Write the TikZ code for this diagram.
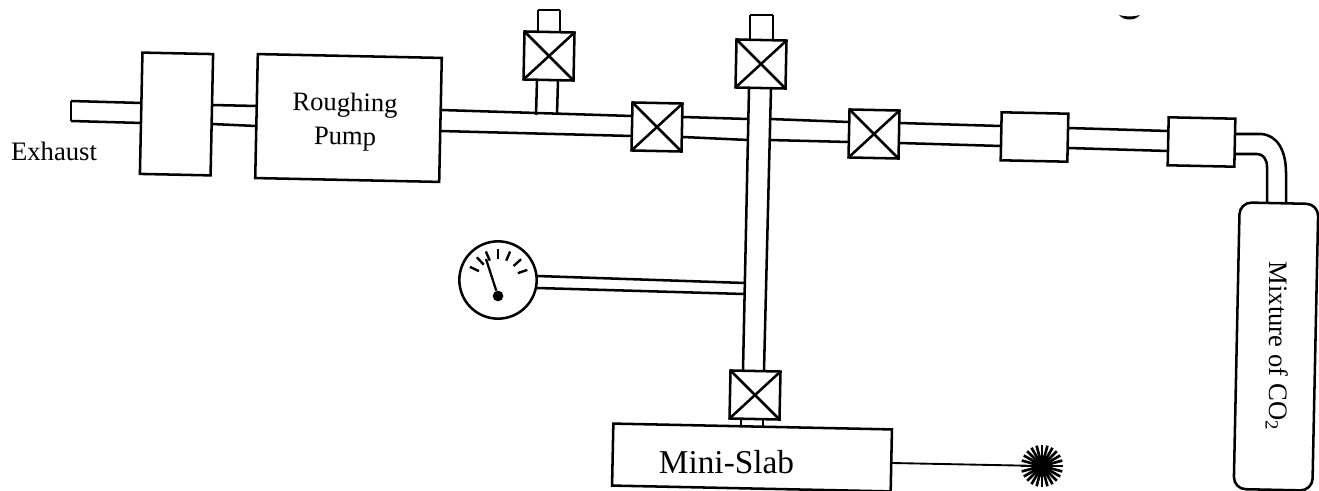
\documentclass[tikz,border=0pt]{standalone}
\usepackage{fontspec}
\setmainfont{Liberation Serif}
\begin{document}
\begin{tikzpicture}[x=0.75pt,y=-0.75pt,
  wall/.style={line width=1.9pt,black},
  unit/.style={draw,line width=1.9pt,fill=white,rotate=-1.2,inner sep=0pt,outer sep=0pt},
  valvebox/.style={unit,minimum width=37.5pt,minimum height=36pt},
  label/.style={inner sep=0pt,font=\fontsize{20}{24}\selectfont}]
\useasboundingbox (0,0) rectangle (1319,491);
% pipe wall end points
\coordinate (sa) at (71,101); \coordinate (sb) at (142,103);
\coordinate (sc) at (71,121); \coordinate (sd) at (142,123);
\coordinate (ba) at (212,105); \coordinate (bb) at (257,106);
\coordinate (bc) at (212,124); \coordinate (bd) at (256,126);
\coordinate (ma) at (441,110); \coordinate (mb) at (632,116);
\coordinate (mc) at (440,131); \coordinate (md) at (632,136);
\coordinate (na) at (537,80); \coordinate (nb) at (536,115);
\coordinate (nc) at (558,80); \coordinate (nd) at (557,115);
\coordinate (ta) at (538,32); \coordinate (tb) at (538,10); \coordinate (tc) at (560,10); \coordinate (td) at (560,32);
\coordinate (ua) at (750,39); \coordinate (ub) at (750,15); \coordinate (uc) at (773,15); \coordinate (ud) at (773,39);
\coordinate (va) at (749,88); \coordinate (vb) at (743,370);
\coordinate (vc) at (771,88); \coordinate (vd) at (764,370);
\coordinate (ha) at (683,117); \coordinate (hb) at (748,119);
\coordinate (hc) at (683,137); \coordinate (hd) at (748,140);
\coordinate (ia) at (770,119); \coordinate (ib) at (849,122);
\coordinate (ic) at (769,140); \coordinate (id) at (849,142);
\coordinate (ja) at (899,123); \coordinate (jb) at (1001,126);
\coordinate (jc) at (899,143); \coordinate (jd) at (1001,146);
\coordinate (ka) at (1068,128); \coordinate (kb) at (1168,131);
\coordinate (kc) at (1068,148); \coordinate (kd) at (1168,151);
\coordinate (ga) at (537,276); \coordinate (gb) at (745,283);
\coordinate (gc) at (537,288); \coordinate (gd) at (744,294);
\coordinate (la) at (741,420); \coordinate (lb) at (741,428);
\coordinate (lc) at (763,420); \coordinate (ld) at (763,429);
\coordinate (oa) at (1235,134); \coordinate (oc) at (1286,203);
\coordinate (qa) at (1235,154); \coordinate (qc) at (1267,203);
\coordinate (wa) at (892,463); \coordinate (wb) at (1042,466);
% pipes
\foreach \p/\q in {sa/sb,sc/sd,ba/bb,bc/bd,ma/mb,mc/md,na/nb,nc/nd,ua/ub,ub/uc,uc/ud,ta/tb,tb/tc,tc/td,va/vb,vc/vd,ha/hb,hc/hd,ia/ib,ic/id,ja/jb,jc/jd,ka/kb,kc/kd,ga/gb,gc/gd,la/lb,lc/ld}
  \draw[wall] (\p) -- (\q);
\draw[wall] (sa) -- (sc);
\draw[wall] (oa) -- (1261,134) .. controls (1277,135) and (1286,150) .. (1286,173) -- (oc);
\draw[wall] (qa) -- (1257,154) .. controls (1263,154) and (1267,159) .. (1267,167) -- (qc);
% units
\node[unit,minimum width=53pt,minimum height=91pt] (filter) at (176.5,114) {};
\node[unit,minimum width=138pt,minimum height=93pt] (pump) at (348.5,118) {};
\node[label,rotate=-1] (pumptext1) at (345,105) {Roughing};
\node[label,rotate=-1] (pumptext2) at (345,139) {Pump};
\node[valvebox] (v1) at (549,56) {};
\node[valvebox] (v2) at (657,127) {};
\node[valvebox] (v3) at (761,64) {};
\node[valvebox] (v4) at (874,134) {};
\node[valvebox] (v5) at (755,395) {};
\foreach \v in {v1,v2,v3,v4,v5}{
  \draw[line width=1.9pt] (\v.north west) -- (\v.south east);
  \draw[line width=1.9pt] (\v.north east) -- (\v.south west);
}
\node[unit,minimum width=50pt,minimum height=36pt] (b3) at (1034.5,137) {};
\node[unit,minimum width=50pt,minimum height=36pt] (b4) at (1201.5,142) {};
% chamber
\node[unit,minimum width=209pt,minimum height=46.5pt] (slab) at (752,457.5) {};
\node[inner sep=0pt,font=\fontsize{25}{30}\selectfont] (slabtext) at (726.5,462) {Mini-Slab};
% tank
\node[draw,line width=1.9pt,fill=white,rounded corners=9pt,rotate=-1.2,minimum width=59pt,minimum height=215pt,inner sep=0pt,outer sep=0pt] (tank) at (1276,346.5) {};
\node[label,rotate=-90] (tanktext) at (1277,346) {Mixture of CO\textsubscript{2}};
\node[label] (exhaust) at (54,151) {Exhaust};
% gauge
\node[circle,draw,line width=1.9pt,fill=white,minimum size=58pt,inner sep=0pt,outer sep=0pt] (gauge) at (498,280) {};
\node[circle,fill=black,minimum size=8pt,inner sep=0pt] (pivot) at (498,296) {};
\coordinate (tip) at (486,259);
\draw[line width=1.7pt] (pivot) -- (tip);
\foreach \a in {-155,-133,-113,-90,-67,-42,-19}
  \draw[line width=1.8pt] (gauge.center) ++(\a:21) -- ++(\a:10);
% burst
\draw[line width=1.4pt] (wa) -- (wb);
\node[circle,fill=black,minimum size=16pt,inner sep=0pt] (burst) at (wb) {};
\foreach \a in {0,15,...,345}
  \draw[line width=2pt] (burst.center) -- ++(\a:21);
% scan mark
\fill[black] (1119,15) .. controls (1127,17) and (1132,17) .. (1140,15) .. controls (1135,21) and (1124,21) .. cycle;
\end{tikzpicture}
\end{document}
